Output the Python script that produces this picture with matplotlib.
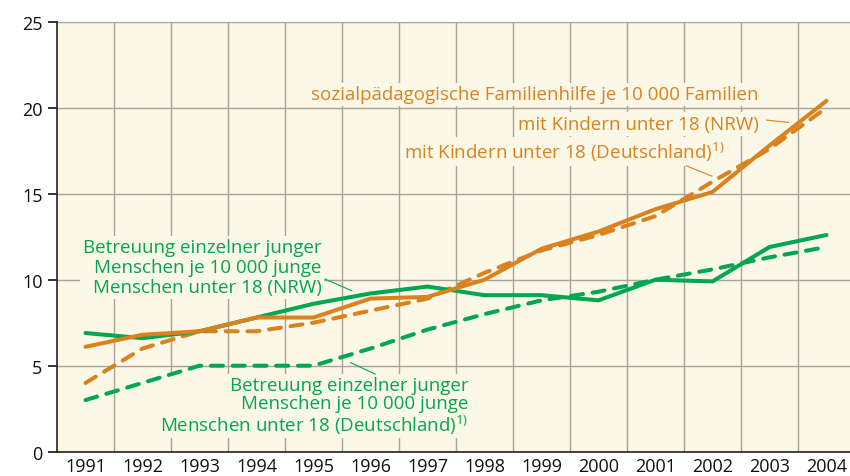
import matplotlib
matplotlib.use("Agg")
import matplotlib.pyplot as plt

plt.rcParams['font.family'] = ['Open Sans', 'DejaVu Sans']
plt.rcParams['mathtext.fontset'] = 'custom'
plt.rcParams['mathtext.rm'] = 'Open Sans'
plt.rcParams['mathtext.it'] = 'Open Sans'

years = list(range(1991, 2005))
betreuung_nrw = [6.9, 6.6, 7.0, 7.8, 8.6, 9.2, 9.6, 9.1, 9.1, 8.8, 10.0, 9.9, 11.9, 12.6]
betreuung_de = [3.0, 4.0, 5.0, 5.0, 5.0, 6.0, 7.1, 8.0, 8.8, 9.3, 10.0, 10.6, 11.3, 11.9]
familie_nrw = [6.1, 6.8, 7.0, 7.8, 7.8, 8.9, 9.0, 10.0, 11.8, 12.8, 14.1, 15.1, 17.8, 20.4]
familie_de = [4.0, 6.0, 7.0, 7.0, 7.5, 8.2, 8.9, 10.4, 11.7, 12.6, 13.7, 15.7, 17.6, 20.0]
yticks = [0, 5, 10, 15, 20, 25]

BG = '#FCF8E8'
ORANGE = '#D9821E'
GREEN = '#00A651'
GRID = '#A5A39C'

W, H = 850, 477
fig = plt.figure(figsize=(8.5, 4.77), dpi=100)
ax = fig.add_axes([57 / W, (H - 452.7) / H, (W - 57) / W, (452.7 - 22.7) / H])
ax.set_facecolor(BG)
ax.set_xlim(1990.5, 1990.5 + (W - 57) / 57)
ax.set_ylim(0, 25)

ax.set_xticks(years)
ax.set_xticklabels([str(y) for y in years])
ax.set_xticks([y + 0.5 for y in years[:-1]], minor=True)
ax.set_yticks(yticks)
ax.set_yticklabels([str(v) for v in yticks])

ax.grid(True, which='minor', axis='x', color=GRID, lw=1.0)
ax.grid(True, which='major', axis='y', color=GRID, lw=1.0)
ax.set_axisbelow(True)

for s in ['top', 'right']:
    ax.spines[s].set_visible(False)
for s in ['left', 'bottom']:
    ax.spines[s].set_color('#222222')
    ax.spines[s].set_linewidth(1.2)

ax.tick_params(axis='x', which='both', length=0, pad=4, labelsize=13, colors='#111111')
ax.tick_params(axis='y', which='major', length=6.5, width=1.2, pad=4, labelsize=13,
               colors='#111111', direction='out')

lw = 2.9
dash = (3.0, 2.4)
ax.plot(years, familie_de, color=ORANGE, lw=lw, ls=(0, dash), dash_capstyle='round', zorder=3)
ax.plot(years, betreuung_de, color=GREEN, lw=lw, ls=(0, dash), dash_capstyle='round', zorder=3)
ax.plot(years, betreuung_nrw, color=GREEN, lw=lw, solid_capstyle='round',
        solid_joinstyle='round', zorder=4)
ax.plot(years, familie_nrw, color=ORANGE, lw=lw, solid_capstyle='round',
        solid_joinstyle='round', zorder=5)

box = dict(facecolor=BG, edgecolor='none', pad=2)
FS = 13.5

ax.text(2002.80, 20.48, 'sozialpädagogische Familienhilfe je 10 000 Familien',
        color=ORANGE, fontsize=FS, ha='right', va='baseline', bbox=box, zorder=2)
ax.text(2002.82, 18.75, 'mit Kindern unter 18 (NRW)',
        color=ORANGE, fontsize=FS, ha='right', va='baseline', bbox=box, zorder=2)
ax.text(2002.21, 17.09, 'mit Kindern unter 18 (Deutschland)$^{1)}$',
        color=ORANGE, fontsize=FS, ha='right', va='baseline', bbox=box, zorder=2)

ax.text(1995.14, 10.73, 'Betreuung einzelner junger\nMenschen je 10 000 junge\nMenschen unter 18 (NRW)',
        color=GREEN, fontsize=FS, ha='right', va='center', multialignment='right',
        linespacing=1.12, bbox=box, zorder=2)
ax.text(1997.72, 2.66, 'Betreuung einzelner junger\nMenschen je 10 000 junge\nMenschen unter 18 (Deutschland)$^{1)}$',
        color=GREEN, fontsize=FS, ha='right', va='center', multialignment='right',
        linespacing=1.01, bbox=box, zorder=2)

# leader lines
ax.plot([2002.95, 2003.33], [19.28, 19.14], color=ORANGE, lw=0.8, zorder=2)
ax.plot([2001.54, 2001.99], [16.62, 16.02], color=ORANGE, lw=0.8, zorder=2)
ax.plot([1995.20, 1995.67], [10.04, 9.36], color=GREEN, lw=0.8, zorder=2)
ax.plot([1995.65, 1996.08], [5.18, 4.51], color=GREEN, lw=0.8, zorder=2)

fig.savefig('out.png', dpi=100, facecolor='white')
